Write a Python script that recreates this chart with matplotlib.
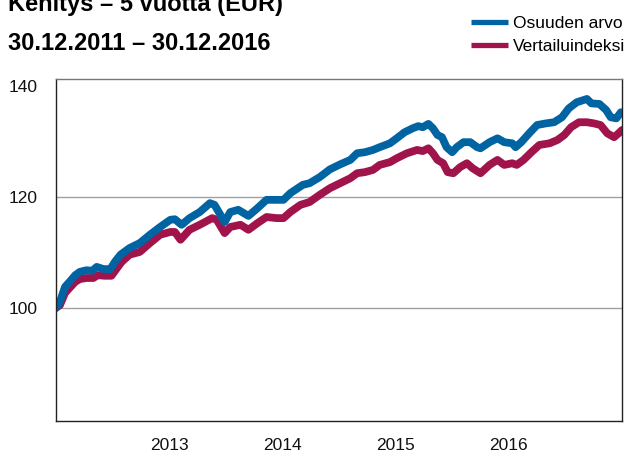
import matplotlib
matplotlib.use("Agg")
import matplotlib.pyplot as plt

# aikapisteet (desimaalivuosi) ja indeksoidut arvot, luettu kuvasta
t_fund = [2012.00, 2012.035, 2012.08, 2012.12, 2012.17, 2012.21, 2012.27, 2012.32, 2012.36,
          2012.42, 2012.48, 2012.52, 2012.57, 2012.65, 2012.74, 2012.83, 2012.92, 2013.01,
          2013.05, 2013.11, 2013.18, 2013.27, 2013.36, 2013.40, 2013.49, 2013.54, 2013.61,
          2013.70, 2013.78, 2013.86, 2013.95, 2014.01, 2014.07, 2014.18, 2014.24, 2014.33,
          2014.42, 2014.51, 2014.60, 2014.66, 2014.73, 2014.80, 2014.86, 2014.95, 2015.01,
          2015.08, 2015.15, 2015.20, 2015.24, 2015.29, 2015.33, 2015.37, 2015.41, 2015.45,
          2015.50, 2015.54, 2015.60, 2015.66, 2015.72, 2015.75, 2015.83, 2015.90, 2015.96,
          2016.03, 2016.06, 2016.11, 2016.18, 2016.25, 2016.33, 2016.40, 2016.47, 2016.53,
          2016.60, 2016.69, 2016.73, 2016.80, 2016.86, 2016.90, 2016.95, 2016.99]
fund = [100.0, 101.1, 103.8, 104.7, 105.9, 106.5, 106.8, 106.7, 107.4,
        107.0, 107.0, 108.3, 109.6, 110.8, 111.7, 113.2, 114.6, 115.9,
        116.0, 115.0, 116.2, 117.3, 118.9, 118.6, 115.5, 117.3, 117.7,
        116.6, 118.0, 119.5, 119.5, 119.5, 120.7, 122.2, 122.5, 123.6,
        125.0, 125.9, 126.7, 127.9, 128.1, 128.5, 129.0, 129.7, 130.6,
        131.7, 132.4, 132.8, 132.6, 133.2, 132.4, 131.2, 130.8, 129.0,
        128.1, 129.0, 129.9, 129.9, 129.0, 128.8, 129.9, 130.6, 129.9,
        129.7, 129.0, 129.9, 131.5, 133.0, 133.3, 133.5, 134.4, 136.0,
        137.1, 137.7, 136.9, 136.8, 135.7, 134.4, 134.2, 135.3]

t_bench = [2012.00, 2012.035, 2012.08, 2012.12, 2012.17, 2012.21, 2012.27, 2012.33, 2012.37,
           2012.43, 2012.49, 2012.54, 2012.58, 2012.65, 2012.74, 2012.83, 2012.92, 2013.01,
           2013.05, 2013.10, 2013.18, 2013.27, 2013.38, 2013.42, 2013.49, 2013.54, 2013.63,
           2013.70, 2013.78, 2013.86, 2013.95, 2014.01, 2014.07, 2014.16, 2014.24, 2014.33,
           2014.42, 2014.51, 2014.60, 2014.66, 2014.73, 2014.80, 2014.86, 2014.95, 2015.01,
           2015.10, 2015.19, 2015.24, 2015.29, 2015.33, 2015.37, 2015.42, 2015.46, 2015.51,
           2015.57, 2015.63, 2015.68, 2015.75, 2015.83, 2015.90, 2015.96, 2016.03, 2016.07,
           2016.13, 2016.20, 2016.27, 2016.36, 2016.43, 2016.49, 2016.55, 2016.62, 2016.69,
           2016.75, 2016.81, 2016.87, 2016.93, 2016.97, 2017.00]
bench = [100.0, 100.5, 102.7, 103.6, 104.7, 105.2, 105.4, 105.4, 105.9,
         105.8, 105.8, 107.2, 108.3, 109.6, 110.1, 111.7, 113.2, 113.7,
         113.7, 112.3, 114.1, 115.0, 116.2, 115.9, 113.5, 114.6, 115.0,
         114.1, 115.3, 116.4, 116.2, 116.2, 117.3, 118.6, 119.1, 120.4,
         121.6, 122.5, 123.4, 124.3, 124.5, 124.9, 125.8, 126.3, 127.0,
         127.9, 128.5, 128.3, 128.8, 127.9, 126.7, 126.1, 124.5, 124.3,
         125.4, 126.1, 125.2, 124.3, 125.8, 126.7, 125.8, 126.1, 125.8,
         126.7, 128.1, 129.4, 129.7, 130.3, 131.2, 132.6, 133.5, 133.5,
         133.3, 133.0, 131.5, 130.8, 131.5, 132.1]

year_ticks = [2013, 2014, 2015, 2016]
y_ticks = [100, 120, 140]

BLUE = "#0064a3"
RED = "#a0134b"

plt.rcParams["font.family"] = ["Liberation Sans", "DejaVu Sans"]

fig = plt.figure(figsize=(6.24, 4.58), dpi=100)
ax = fig.add_axes([0.0897, 0.0808, 0.9071, 0.7467])

(l_bench,) = ax.plot(t_bench, bench, color=RED, lw=5.6,
                     solid_capstyle="round", solid_joinstyle="round")
(l_fund,) = ax.plot(t_fund, fund, color=BLUE, lw=5.6,
                    solid_capstyle="round", solid_joinstyle="round")

ax.set_xlim(2012.0, 2017.0)
ax.set_ylim(79.6, 141.3)
ax.set_xticks(year_ticks)
ax.set_xticklabels([str(y) for y in year_ticks])
ax.set_yticks(y_ticks)
ax.tick_params(length=0, labelsize=12.5, colors="#111111")
ax.tick_params(axis="x", pad=12)
ax.tick_params(axis="y", pad=13)

for y in [100, 120]:
    ax.axhline(y, color="#a0a0a0", lw=1.0, zorder=0)
for s in ax.spines.values():
    s.set_color("#222222")
    s.set_linewidth(1.0)
ax.spines["top"].set_color("#777777")

fig.text(0.013, 0.99, "Kehitys \u2013 5 vuotta (EUR)", fontweight="bold",
         fontsize=17, va="center", ha="left")
fig.text(0.013, 0.905, "30.12.2011 \u2013 30.12.2016", fontweight="bold",
         fontsize=17, va="center", ha="left")

leg = fig.legend([l_fund, l_bench], ["Osuuden arvo", "Vertailuindeksi"],
                 loc="upper right", bbox_to_anchor=(1.027, 1.0), frameon=False,
                 prop={"size": 12.5}, handlelength=2.1,
                 handletextpad=0.3, labelspacing=0.45)
for h in leg.legend_handles:
    h.set_linewidth(3.8)
    h.set_solid_capstyle("butt")

fig.savefig("out.png", dpi=100)
